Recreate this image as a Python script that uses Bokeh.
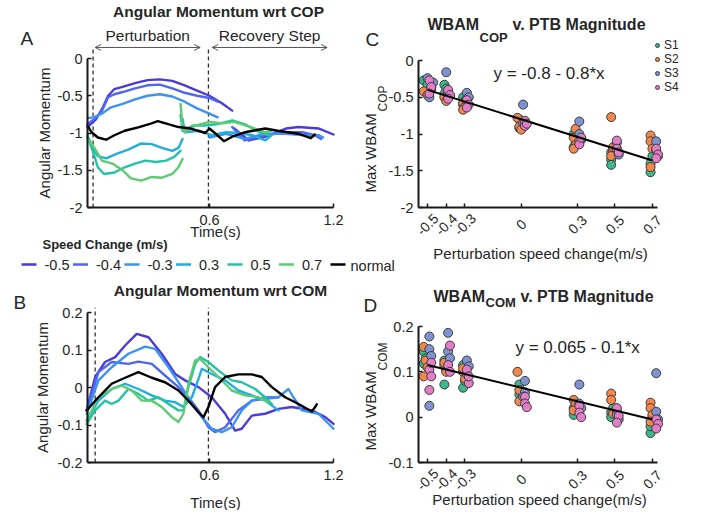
import math
from bokeh.plotting import figure
from bokeh.layouts import row, column
from bokeh.models import (Range1d, FixedTicker, CustomJSTickFormatter, Label, Arrow,
                          OpenHead, Legend, LegendItem)
from bokeh.embed import file_html
from bokeh.resources import INLINE

FONT = "Liberation Sans"
INK = "#1a1a1a"
TXT = "#262626"

# ---------------- data ----------------
speed_labels = ["-0.5", "-0.4", "-0.3", "0.3", "0.5", "0.7", "normal"]
speed_colors = ["#4B3BDB", "#4F66F2", "#3B92F0", "#21AEDD", "#25C2A6", "#5CCB72", "#000000"]

# Panel A: angular momentum wrt COP  (time s, value)
cop_m05_ptb = [(0.01,-0.92),(0.05,-0.82),(0.08,-0.68),(0.11,-0.50),(0.14,-0.41),(0.18,-0.38),(0.24,-0.33),
               (0.30,-0.29),(0.36,-0.28),(0.42,-0.30),(0.48,-0.36),(0.54,-0.43),(0.60,-0.50),(0.66,-0.60),(0.71,-0.70)]
cop_m04_ptb = [(0.01,-0.88),(0.05,-0.80),(0.08,-0.70),(0.11,-0.52),(0.14,-0.48),(0.18,-0.45),(0.24,-0.40),
               (0.30,-0.36),(0.36,-0.35),(0.42,-0.40),(0.48,-0.46),(0.54,-0.50),(0.60,-0.53),(0.64,-0.58)]
cop_m03_ptb = [(0.01,-0.80),(0.04,-0.79),(0.08,-0.74),(0.12,-0.66),(0.18,-0.61),(0.24,-0.55),(0.30,-0.50),
               (0.36,-0.48),(0.42,-0.51),(0.48,-0.58),(0.54,-0.67),(0.60,-0.74),(0.64,-0.79)]
cop_p03_ptb = [(0.01,-1.03),(0.03,-1.18),(0.06,-1.31),(0.10,-1.34),(0.15,-1.28),(0.21,-1.22),(0.27,-1.14),
               (0.32,-1.15),(0.37,-1.20),(0.42,-1.24),(0.45,-1.20),(0.47,-1.08)]
cop_p05_ptb = [(0.01,-1.05),(0.04,-1.28),(0.06,-1.46),(0.09,-1.55),(0.14,-1.53),(0.19,-1.46),(0.24,-1.41),
               (0.29,-1.37),(0.34,-1.39),(0.39,-1.37),(0.43,-1.32),(0.46,-1.24)]
cop_p07_ptb = [(0.01,-1.06),(0.05,-1.23),(0.08,-1.37),(0.13,-1.41),(0.18,-1.50),(0.22,-1.61),(0.27,-1.64),
               (0.32,-1.59),(0.37,-1.60),(0.42,-1.55),(0.45,-1.46),(0.47,-1.35)]
cop_m05_rec = [(0.72,-0.94),(0.79,-1.10),(0.87,-1.05),(0.97,-0.94),(1.03,-0.92),(1.13,-0.94),(1.20,-1.02)]
cop_m04_rec = [(0.71,-0.92),(0.77,-1.10),(0.87,-1.03),(0.97,-0.99),(1.05,-0.99),(1.11,-1.03),(1.14,-1.08)]
cop_m03_rec = [(0.60,-1.06),(0.68,-1.01),(0.77,-1.08),(0.87,-1.01),(0.97,-1.01),(1.06,-1.03),(1.13,-1.03),(1.15,-1.06)]
cop_p03_rec = [(0.47,-0.81),(0.48,-0.99),(0.55,-0.97),(0.61,-1.03),(0.68,-0.99),(0.74,-1.00),(0.81,-1.03),(0.87,-1.10),(0.90,-1.03)]
cop_p05_rec = [(0.46,-0.76),(0.47,-0.97),(0.52,-0.90),(0.58,-0.90),(0.64,-0.88),(0.71,-0.83),(0.77,-0.88),(0.84,-0.99),(0.89,-1.03)]
cop_p07_rec = [(0.46,-0.61),(0.47,-0.92),(0.48,-0.99),(0.53,-0.90),(0.60,-0.85),(0.66,-0.87),(0.72,-0.85),(0.80,-0.92),(0.87,-0.99),(0.90,-0.97)]
cop_normal = [(0.01,-0.90),(0.03,-0.99),(0.06,-1.06),(0.10,-1.09),(0.14,-1.03),(0.19,-0.97),(0.26,-0.92),(0.32,-0.87),
              (0.35,-0.84),(0.40,-0.88),(0.45,-0.92),(0.51,-0.94),(0.58,-1.00),(0.60,-0.94),(0.63,-1.01),(0.67,-1.11),
              (0.71,-1.05),(0.77,-0.99),(0.87,-0.94),(0.93,-0.97),(1.03,-1.01),(1.09,-1.07),(1.11,-1.02)]
cop_events = [0.037, 0.595]
cop_phases = [("Perturbation", 0.047, 0.555), ("Recovery Step", 0.613, 1.169)]

# Panel B: angular momentum wrt COM
com_m05 = [(0.006,-0.061),(0.047,0.028),(0.095,0.068),(0.144,0.081),(0.192,0.112),(0.248,0.143),(0.305,0.134),
           (0.369,0.090),(0.434,0.036),(0.482,0.019),(0.547,0.001),(0.611,-0.026),(0.676,-0.070),(0.724,-0.115),
           (0.756,-0.110),(0.805,-0.075),(0.869,-0.070),(0.934,-0.057),(0.998,-0.052),(1.095,-0.061),(1.16,-0.079),(1.2,-0.097)]
com_m04 = [(0.006,-0.061),(0.063,0.041),(0.127,0.068),(0.208,0.063),(0.256,0.069),(0.321,0.063),(0.385,0.032),
           (0.45,0.001),(0.498,-0.026),(0.547,-0.061),(0.595,-0.106),(0.627,-0.119),(0.676,-0.106),(0.74,-0.061),
           (0.805,-0.035),(0.869,-0.030),(0.934,-0.026)]
com_m03 = [(0.006,-0.070),(0.063,0.019),(0.127,0.054),(0.208,0.090),(0.289,0.109),(0.337,0.103),(0.402,0.054),
           (0.466,0.001),(0.515,-0.044),(0.563,-0.079),(0.611,-0.110),(0.66,-0.119),(0.708,-0.106),(0.756,-0.061),
           (0.805,-0.035),(0.869,-0.026),(0.934,-0.026),(0.982,-0.004),(1.006,-0.026),(1.047,-0.061),(1.127,-0.070),(1.2,-0.110)]
com_p03 = [(0.006,-0.088),(0.063,-0.035),(0.127,-0.004),(0.192,0.010),(0.256,-0.004),(0.321,-0.021),(0.385,-0.035),
           (0.434,-0.039),(0.474,-0.052),(0.515,-0.026),(0.547,0.023),(0.563,0.050),(0.611,0.036),(0.676,0.019),
           (0.74,-0.008),(0.805,-0.021),(0.869,-0.035),(0.934,-0.061)]
com_p05 = [(0.006,-0.097),(0.047,-0.061),(0.095,-0.035),(0.127,-0.044),(0.16,-0.035),(0.208,-0.004),(0.256,-0.017),
           (0.305,-0.035),(0.353,-0.026),(0.402,-0.044),(0.45,-0.061),(0.474,-0.061),(0.498,0.001),(0.531,0.063),
           (0.555,0.081),(0.595,0.068),(0.644,0.045),(0.708,0.019),(0.756,0.014),(0.821,-0.004),(0.869,-0.026),(0.902,-0.044)]
com_p07 = [(0.006,-0.088),(0.063,-0.026),(0.127,-0.004),(0.176,0.005),(0.224,-0.008),(0.273,-0.035),(0.321,-0.035),
           (0.369,-0.052),(0.418,-0.079),(0.45,-0.092),(0.474,-0.070),(0.498,0.010),(0.531,0.072),(0.555,0.076),
           (0.595,0.054),(0.644,0.028),(0.708,-0.008),(0.773,-0.021),(0.837,-0.026),(0.886,-0.039)]
com_normal = [(0.006,-0.061),(0.063,-0.026),(0.127,0.010),(0.192,0.026),(0.256,0.041),(0.321,0.026),(0.385,0.014),
              (0.45,-0.008),(0.498,-0.035),(0.547,-0.066),(0.571,-0.079),(0.595,-0.052),(0.627,0.001),(0.676,0.028),
              (0.74,0.035),(0.805,0.035),(0.853,0.028),(0.902,0.001),(0.966,-0.026),(1.031,-0.044),(1.095,-0.064),
              (1.111,-0.052),(1.119,-0.045)]
com_events = [0.047, 0.595]

time_ticks = [0.6, 1.2]
cop_ticks = [-2, -1.5, -1, -0.5, 0]
com_ticks = [-0.2, -0.1, 0, 0.1, 0.2]
speed_ticks = [-0.5, -0.4, -0.3, 0, 0.3, 0.5, 0.7]
speed_tick_labels = ["-0.5", "-0.4", "-0.3", "0", "0.3", "0.5", "0.7"]
wb_cop_ticks = [-2, -1.5, -1, -0.5, 0]
wb_com_ticks = [-0.1, 0, 0.1, 0.2]

subjects = ["S1", "S2", "S3", "S4"]
subject_colors = ["#3DB88C", "#F4874B", "#7E93CF", "#E37DC8"]

# Panel C: max WBAM wrt COP per trial
cop_s1_x = [-0.52,-0.50,-0.48,-0.41,-0.40,-0.41,-0.31,-0.30,-0.31,-0.01,0.00,-0.01,0.28,0.29,0.28,0.48,0.48,0.48,0.69,0.69,0.70]
cop_s1_y = [-0.27,-0.33,-0.40,-0.33,-0.38,-0.45,-0.50,-0.55,-0.60,-0.80,-0.86,-0.92,-1.00,-1.12,-1.18,-1.25,-1.35,-1.42,-1.40,-1.52,-1.30]
cop_s2_x = [-0.52,-0.50,-0.48,-0.41,-0.40,-0.39,-0.31,-0.30,-0.31,-0.02,-0.01,0.00,0.29,0.28,0.29,0.28,0.48,0.49,0.48,0.49,0.69,0.69,0.70,0.69]
cop_s2_y = [-0.42,-0.47,-0.37,-0.50,-0.55,-0.47,-0.58,-0.63,-0.67,-0.78,-0.90,-0.94,-0.93,-1.05,-1.15,-1.20,-0.77,-1.22,-1.30,-1.18,-1.02,-1.10,-1.20,-1.45]
cop_s3_x = [-0.50,-0.49,-0.47,-0.40,-0.39,-0.38,-0.29,-0.28,-0.29,0.01,0.01,0.02,0.31,0.31,0.32,0.51,0.51,0.52,0.72,0.72,0.73]
cop_s3_y = [-0.24,-0.50,-0.30,-0.16,-0.42,-0.48,-0.44,-0.50,-0.56,-0.60,-0.85,-0.88,-0.83,-1.00,-1.08,-1.12,-1.20,-1.28,-1.10,-1.22,-1.30]
cop_s4_x = [-0.49,-0.48,-0.49,-0.39,-0.38,-0.39,-0.29,-0.28,-0.29,0.02,0.02,0.03,0.31,0.31,0.32,0.51,0.51,0.52,0.72,0.73,0.72]
cop_s4_y = [-0.27,-0.36,-0.45,-0.40,-0.47,-0.52,-0.54,-0.60,-0.64,-0.82,-0.89,-0.86,-1.10,-1.14,-1.05,-1.09,-1.20,-1.25,-1.20,-1.28,-1.33]
cop_fit_intercept = -0.8
cop_fit_slope = -0.8

# Panel D: max WBAM wrt COM per trial
com_s1_x = [-0.52,-0.51,-0.52,-0.41,-0.41,-0.40,-0.31,-0.31,-0.30,-0.01,-0.01,0.00,0.28,0.28,0.29,0.48,0.48,0.49,0.69,0.69,0.70]
com_s1_y = [0.145,0.130,0.118,0.125,0.072,0.105,0.115,0.065,0.080,0.072,0.050,0.040,0.020,0.005,0.030,0.010,0.000,0.020,-0.035,-0.020,0.000]
com_s2_x = [-0.52,-0.51,-0.52,-0.50,-0.41,-0.40,-0.41,-0.31,-0.30,-0.31,-0.02,-0.01,-0.01,0.28,0.29,0.28,0.48,0.48,0.49,0.69,0.69,0.70,0.69]
com_s2_y = [0.155,0.125,0.090,0.110,0.115,0.100,0.120,0.100,0.085,0.108,0.100,0.060,0.035,0.038,0.028,0.015,0.052,0.038,0.008,0.032,0.020,0.005,-0.010]
com_s3_x = [-0.49,-0.49,-0.49,-0.48,-0.39,-0.39,-0.38,-0.29,-0.28,-0.29,0.02,0.02,0.01,0.31,0.31,0.32,0.51,0.51,0.52,0.72,0.72,0.73]
com_s3_y = [0.178,0.150,0.025,0.135,0.186,0.145,0.130,0.125,0.112,0.095,0.080,0.055,0.045,0.072,0.030,0.020,0.015,0.005,-0.005,0.097,0.012,-0.005]
com_s4_x = [-0.49,-0.49,-0.48,-0.48,-0.38,-0.39,-0.38,-0.29,-0.28,-0.28,0.02,0.02,0.03,0.31,0.31,0.32,0.51,0.52,0.51,0.72,0.73,0.72]
com_s4_y = [0.105,0.060,0.090,0.120,0.158,0.115,0.100,0.105,0.075,0.090,0.045,0.030,0.022,0.025,0.010,0.000,0.020,0.003,-0.012,-0.005,-0.015,-0.025]
com_fit_intercept = 0.065
com_fit_slope = -0.1

fit_x = [-0.5, 0.7]


# ---------------- helpers ----------------
def make_panel(canvas, xcal, ycal):
    """canvas = (left, top, right, bottom) page px; xcal/ycal = ((px, value), (px, value))."""
    cl, ct, cr, cb = canvas
    (px0, vx0), (px1, vx1) = xcal
    (py0, vy0), (py1, vy1) = ycal
    fx = lambda px: vx0 + (px - px0) * (vx1 - vx0) / (px1 - px0)
    fy = lambda py: vy0 + (py - py0) * (vy1 - vy0) / (py1 - py0)
    p = figure(width=cr - cl, height=cb - ct,
               x_range=Range1d(fx(cl), fx(cr)), y_range=Range1d(fy(cb), fy(ct)),
               output_backend="svg", toolbar_location=None, min_border=0)
    p.outline_line_color = None
    p.xgrid.visible = False
    p.ygrid.visible = False
    p.background_fill_color = "white"
    p.border_fill_color = "white"
    return p, fx, fy


def style_axis(ax, ticks, loc, bounds, size="14.5px", blank=False):
    ax.ticker = FixedTicker(ticks=ticks)
    ax.formatter = CustomJSTickFormatter(code="return '';" if blank else "return String(tick);")
    ax.fixed_location = loc
    ax.bounds = bounds
    ax.axis_line_width = 2
    ax.axis_line_color = INK
    ax.major_tick_in = 4
    ax.major_tick_out = 0
    ax.minor_tick_in = 0
    ax.minor_tick_out = 0
    ax.major_tick_line_width = 1.5
    ax.major_tick_line_color = INK
    ax.major_label_text_font = FONT
    ax.major_label_text_font_size = size
    ax.major_label_text_color = TXT
    ax.major_label_standoff = 5
    ax.axis_label_text_font = FONT
    ax.axis_label_text_font_style = "normal"
    ax.axis_label_text_font_size = "15px"
    ax.axis_label_text_color = TXT


def add_text(p, canvas, px, py, text, size, bold=False, align="left", baseline="middle", angle=0.0):
    p.add_layout(Label(x=px - canvas[0], y=canvas[3] - py, x_units="screen", y_units="screen",
                       text=text, text_font=FONT, text_font_size=size,
                       text_font_style="bold" if bold else "normal",
                       text_align=align, text_baseline=baseline, angle=angle, text_color=TXT))


def draw_curve(p, pts, color, width=2.4):
    p.line([a for a, b in pts], [b for a, b in pts], line_color=color, line_width=width,
           line_join="round", line_cap="round")


# ---------------- panel A ----------------
CA = (0, 0, 348, 272)
A, ax_, ay_ = make_panel(CA, ((87, 0.01), (333, 1.2)), ((58, 0.0), (207, -2.0)))
style_axis(A.xaxis[0], time_ticks, -2, (0.01, 1.2))
style_axis(A.yaxis[0], cop_ticks, 0.01, (-2, 0))
A.xaxis.major_label_standoff = 7
A.yaxis.axis_label = "Angular Momentum"
A.yaxis.axis_label_standoff = 2
A.segment(x0=cop_events, y0=[-2, -2], x1=cop_events, y1=[0.15, 0.15],
          line_color="#333333", line_width=1.3, line_dash="4 3")
for pts, c in zip([cop_m05_ptb, cop_m04_ptb, cop_m03_ptb, cop_p03_ptb, cop_p05_ptb, cop_p07_ptb], speed_colors):
    draw_curve(A, pts, c)
for pts, c in zip([cop_m05_rec, cop_m04_rec, cop_m03_rec, cop_p03_rec, cop_p05_rec, cop_p07_rec], speed_colors):
    draw_curve(A, pts, c)
draw_curve(A, cop_normal, speed_colors[6])
for name, xs, xe in cop_phases:
    A.add_layout(Arrow(x_start=xs, y_start=0.148, x_end=xe, y_end=0.148,
                       start=OpenHead(size=6, line_color="#555555", line_width=1),
                       end=OpenHead(size=6, line_color="#555555", line_width=1),
                       line_color="#555555", line_width=1))
    A.add_layout(Label(x=(xs + xe) / 2, y=ay_(35), text=name, text_font=FONT, text_font_size="15.5px",
                       text_align="center", text_baseline="middle", text_color=TXT))
add_text(A, CA, 218, 11, "Angular Momentum wrt COP", "15.5px", bold=True, align="center")
add_text(A, CA, 20, 38, "A", "19px", baseline="alphabetic")
add_text(A, CA, 215, 231, "Time(s)", "15px", align="center")
add_text(A, CA, 42, 244, "Speed Change (m/s)", "13px", bold=True)
# legend strip of the time-series panels
sw_px = [21 + 51.5 * i for i in range(len(speed_labels))]
A.segment(x0=[ax_(x) for x in sw_px], y0=[ay_(264)] * len(sw_px),
          x1=[ax_(x + 15) for x in sw_px], y1=[ay_(264)] * len(sw_px),
          line_color=speed_colors, line_width=2.5)
for x, lab in zip(sw_px[:6], speed_labels[:6]):
    add_text(A, CA, x + 23, 264, lab, "14.5px")

# ---------------- panel B ----------------
CB = (0, 272, 348, 510)
B, bx_, by_ = make_panel(CB, ((87, 0.01), (333, 1.2)), ((312, 0.2), (462, -0.2)))
style_axis(B.xaxis[0], time_ticks, -0.2, (0.01, 1.2))
style_axis(B.yaxis[0], com_ticks, 0.01, (-0.2, 0.2))
B.xaxis.major_label_standoff = 7
B.yaxis.axis_label = "Angular Momentum"
B.yaxis.axis_label_standoff = 4
B.segment(x0=com_events, y0=[-0.2, -0.2], x1=com_events, y1=[0.213, 0.213],
          line_color="#333333", line_width=1.3, line_dash="4 3")
for pts, c in zip([com_m05, com_m04, com_m03, com_p03, com_p05, com_p07, com_normal], speed_colors):
    draw_curve(B, pts, c)
add_text(B, CB, 220, 290, "Angular Momentum wrt COM", "15.5px", bold=True, align="center")
add_text(B, CB, 13, 302, "B", "19px", baseline="alphabetic")
add_text(B, CB, 215, 502, "Time(s)", "15px", align="center")

# ---------------- panel C ----------------
CC = (348, 0, 698, 276)
C, cx_, cy_ = make_panel(CC, ((418, -0.548), (657, 0.727)), ((60, 0.0), (207, -2.0)))
style_axis(C.xaxis[0], speed_ticks, -2, (-0.548, 0.727), blank=True)
style_axis(C.yaxis[0], wb_cop_ticks, -0.548, (-2, 0))
for t, lab in zip(speed_ticks, speed_tick_labels):
    C.add_layout(Label(x=t, y=CC[3] - 224, y_units="screen", text=lab, angle=math.pi / 4,
                       text_font=FONT, text_font_size="14px", text_align="center",
                       text_baseline="middle", text_color=TXT))
renderers = []
for xs, ys, col in zip([cop_s1_x, cop_s2_x, cop_s3_x, cop_s4_x], [cop_s1_y, cop_s2_y, cop_s3_y, cop_s4_y], subject_colors):
    renderers.append(C.scatter(xs, ys, size=9, fill_color=col, line_color="#3c3c3c", line_width=1))
C.line(fit_x, [cop_fit_intercept + cop_fit_slope * x for x in fit_x], line_color="black", line_width=2)
leg = Legend(items=[LegendItem(label=s, renderers=[r]) for s, r in zip(subjects, renderers)],
             location=(652 - CC[0], CC[3] - 94), orientation="vertical", glyph_width=10, glyph_height=14,
             label_height=14, label_width=10, spacing=0, padding=0, margin=0, label_standoff=2,
             border_line_color=None, background_fill_alpha=0,
             label_text_font=FONT, label_text_font_size="12px", label_text_color=TXT)
C.add_layout(leg)
add_text(C, CC, 365, 39, "C", "19px", baseline="alphabetic")
add_text(C, CC, 427, 24, "WBAM", "16px", bold=True, baseline="alphabetic")
add_text(C, CC, 479, 37, "COP", "13px", bold=True, baseline="alphabetic")
add_text(C, CC, 512, 24, "v. PTB Magnitude", "16px", bold=True, baseline="alphabetic")
add_text(C, CC, 493, 73, "y = -0.8 - 0.8*x", "17px")
add_text(C, CC, 370, 192, "Max WBAM", "15px", angle=math.pi / 2)
add_text(C, CC, 382, 111, "COP", "12px", angle=math.pi / 2)
add_text(C, CC, 540, 253, "Perturbation speed change(m/s)", "15px", align="center")
add_text(C, CC, 350, 265, "normal", "14.5px")

# ---------------- panel D ----------------
CD = (348, 276, 698, 510)
D, dx_, dy_ = make_panel(CD, ((418, -0.548), (657, 0.727)), ((326, 0.2), (462, -0.1)))
style_axis(D.xaxis[0], speed_ticks, -0.1, (-0.548, 0.727), blank=True)
style_axis(D.yaxis[0], wb_com_ticks, -0.548, (-0.1, 0.2))
for t, lab in zip(speed_ticks, speed_tick_labels):
    D.add_layout(Label(x=t, y=CD[3] - 479, y_units="screen", text=lab, angle=math.pi / 4,
                       text_font=FONT, text_font_size="14px", text_align="center",
                       text_baseline="middle", text_color=TXT))
for xs, ys, col in zip([com_s1_x, com_s2_x, com_s3_x, com_s4_x], [com_s1_y, com_s2_y, com_s3_y, com_s4_y], subject_colors):
    D.scatter(xs, ys, size=9, fill_color=col, line_color="#3c3c3c", line_width=1)
D.line(fit_x, [com_fit_intercept + com_fit_slope * x for x in fit_x], line_color="black", line_width=2)
add_text(D, CD, 363, 305, "D", "19px", baseline="alphabetic")
add_text(D, CD, 433, 296, "WBAM", "16px", bold=True, baseline="alphabetic")
add_text(D, CD, 485, 302, "COM", "13px", bold=True, baseline="alphabetic")
add_text(D, CD, 520, 296, "v. PTB Magnitude", "16px", bold=True, baseline="alphabetic")
add_text(D, CD, 515, 347, "y = 0.065 - 0.1*x", "17px")
add_text(D, CD, 370, 450, "Max WBAM", "15px", angle=math.pi / 2)
add_text(D, CD, 382, 370, "COM", "12px", angle=math.pi / 2)
add_text(D, CD, 539, 499, "Perturbation speed change(m/s)", "15px", align="center")

layout = row(column(A, B), column(C, D))
open("out.html", "w").write(file_html(layout, INLINE))
